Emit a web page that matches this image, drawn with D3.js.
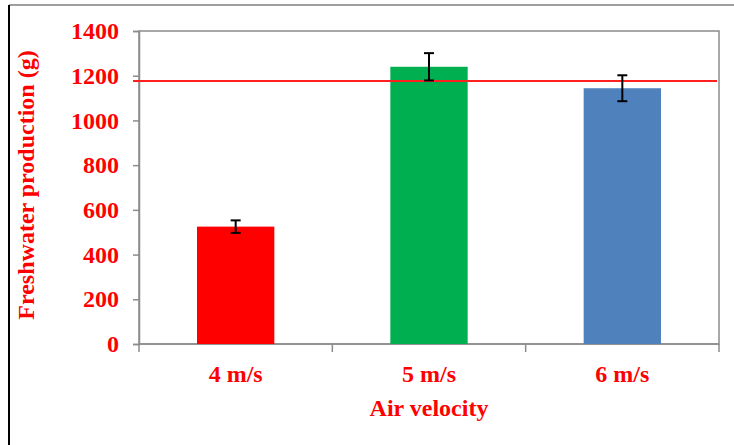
<!DOCTYPE html>
<html>
<head>
<meta charset="utf-8">
<script src="https://cdn.jsdelivr.net/npm/d3@7"></script>
<style>
	body { margin: 0; background: #fff; }
	text { font-family: "Liberation Serif", "Times New Roman", serif; font-weight: bold; fill: #ff0000; }
</style>
</head>
<body>
<svg id="chart" width="734" height="445"></svg>
<script>
// data
const categories = ["4 m/s", "5 m/s", "6 m/s"];
const values = [525, 1240, 1144];
const errors = [28, 61, 58];
const barColors = ["#ff0000", "#00b050", "#4f81bd"];
const yTicks = [0, 200, 400, 600, 800, 1000, 1200, 1400];
const refValue = 1176; // horizontal red line

const svg = d3.select('#chart');
const fontSize = 24;

// outer frame (left and top edges visible)
svg.append("line").attr("x1", 9).attr("y1", 5).attr("x2", 734).attr("y2", 5)
	.attr("stroke", "#7f7f7f").attr("stroke-width", 1.5);
svg.append("line").attr("x1", 9).attr("y1", 5).attr("x2", 9).attr("y2", 445)
	.attr("stroke", "#000").attr("stroke-width", 2);

const plotL = 139, plotR = 719, plotT = 31, plotB = 344;

const x = d3.scaleBand().domain(categories).range([plotL, plotR]).paddingInner(0.6).paddingOuter(0.3);
const y = d3.scaleLinear().domain([0, 1400]).range([plotB, plotT]);

// plot area border (top + right)
svg.append("rect")
	.attr("x", plotL).attr("y", plotT)
	.attr("width", plotR - plotL).attr("height", plotB - plotT)
	.attr("fill", "none").attr("stroke", "#8c8c8c").attr("stroke-width", 1.5);

// y axis
const yAxis = svg.append("g")
	.attr("transform", "translate(" + plotL + ",0)")
	.call(d3.axisLeft(y).tickValues(yTicks).tickSize(6).tickPadding(14).tickFormat(d3.format("d")));
yAxis.select(".domain").attr("stroke", "#8c8c8c").attr("stroke-width", 1.5);
yAxis.selectAll(".tick line").attr("stroke", "#8c8c8c").attr("stroke-width", 1.5);
yAxis.selectAll(".tick text").attr("font-size", fontSize).attr("fill", "#ff0000")
	.attr("font-family", "Liberation Serif").attr("font-weight", "bold");

// x axis: ticks sit between categories
const xAxis = svg.append("g").attr("transform", "translate(0," + plotB + ")");
xAxis.append("line").attr("x1", plotL).attr("x2", plotR).attr("y1", 0).attr("y2", 0)
	.attr("stroke", "#8c8c8c").attr("stroke-width", 1.5);
const step = (plotR - plotL) / categories.length;
d3.range(categories.length + 1).forEach(i => {
	xAxis.append("line")
		.attr("x1", plotL + i * step).attr("x2", plotL + i * step)
		.attr("y1", 0).attr("y2", 8)
		.attr("stroke", "#8c8c8c").attr("stroke-width", 1.5);
});
categories.forEach(c => {
	xAxis.append("text")
		.attr("x", x(c) + x.bandwidth() / 2)
		.attr("y", 38)
		.attr("text-anchor", "middle")
		.attr("font-size", fontSize)
		.text(c);
});

// bars
svg.selectAll(".bar").data(categories).enter().append("rect")
	.attr("class", "bar")
	.attr("x", d => x(d))
	.attr("y", (d, i) => y(values[i]))
	.attr("width", x.bandwidth())
	.attr("height", (d, i) => y(0) - y(values[i]))
	.attr("fill", (d, i) => barColors[i]);

// reference line
svg.append("line")
	.attr("x1", plotL - 6).attr("x2", plotR - 2)
	.attr("y1", y(refValue)).attr("y2", y(refValue))
	.attr("stroke", "#ff2020").attr("stroke-width", 2);

// error bars
categories.forEach((c, i) => {
	const cx = x(c) + x.bandwidth() / 2;
	const g = svg.append("g").attr("stroke", "#000").attr("stroke-width", 2);
	g.append("line").attr("x1", cx).attr("x2", cx)
		.attr("y1", y(values[i] + errors[i])).attr("y2", y(values[i] - errors[i]));
	[values[i] + errors[i], values[i] - errors[i]].forEach(v => {
		g.append("line").attr("x1", cx - 5).attr("x2", cx + 5)
			.attr("y1", y(v)).attr("y2", y(v));
	});
});

// axis titles
svg.append("text")
	.attr("x", (plotL + plotR) / 2)
	.attr("y", 416)
	.attr("text-anchor", "middle")
	.attr("font-size", fontSize)
	.text("Air velocity");

svg.append("text")
	.attr("transform", "translate(34,185) rotate(-90)")
	.attr("text-anchor", "middle")
	.attr("font-size", fontSize)
	.text("Freshwater production (g)");
</script>
</body>
</html>
